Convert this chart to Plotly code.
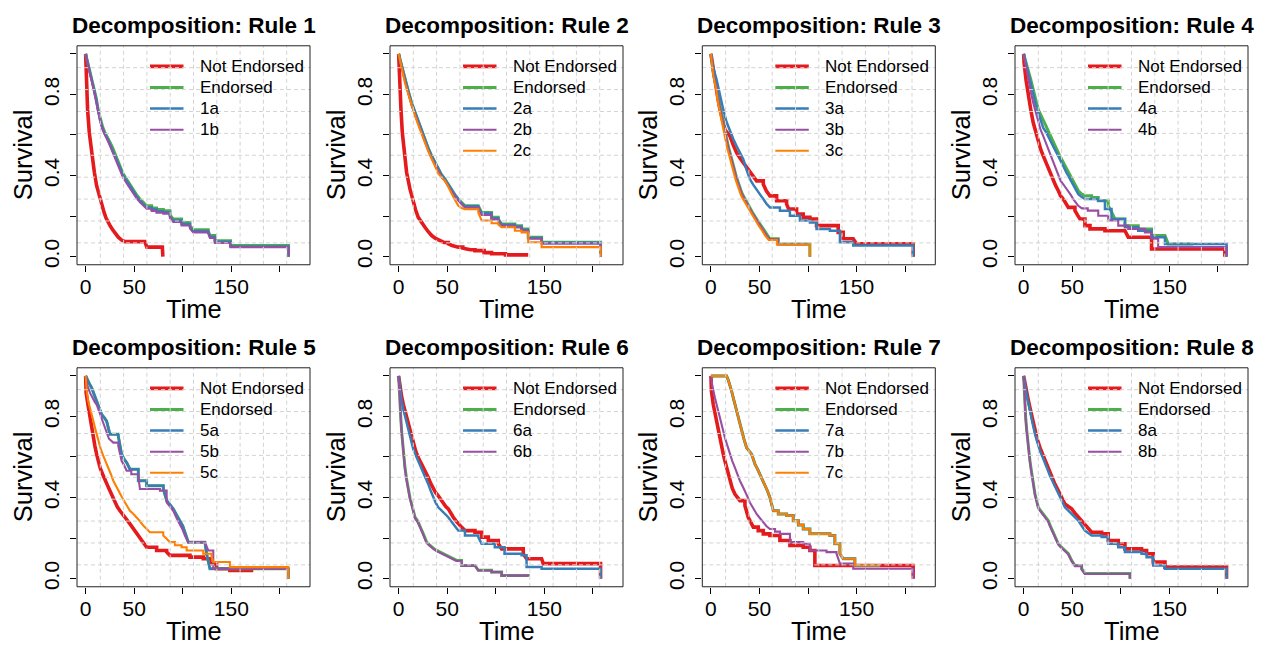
import plotly.graph_objects as go

# ---------------------------------------------------------------- data
# Kaplan-Meier style survival estimates (time, survival) for each rule.

# Rule 1
r1_not_t = [0, 1, 2, 3.8, 6.2, 9, 11.3, 14.8, 17, 19, 21, 23, 25.5, 28.5, 31, 33.6, 37, 40.5, 61, 63, 79, 79.5]
r1_not_s = [1, .86, .725, .61, .51, .415, .35, .284, .25, .218, .19, .17, .15, .128, .11, .096, .082, .074, .074, .047, .038, 0]
r1_t = [0, 2, 4, 6.2, 8.5, 11, 13, 15, 17.5, 20, 22.5, 25, 27.5, 30, 32.5, 35.3, 38.5, 42.2, 45.5, 49,
        52.5, 56, 59.5, 62.8, 68, 73, 80, 86.8, 90.2, 98.8, 107.4, 110.8, 126.2, 128, 133.1, 149.2, 208.9]
r1_end_s = [1, .96, .92, .88, .83, .78, .72, .68, .64, .61, .59, .565, .54, .51, .48, .447, .41, .382, .355, .333,
            .305, .284, .265, .251, .24, .232, .227, .205, .186, .169, .153, .133, .128, .104, .079, .055, 0]
r1_a_s = [1, .955, .915, .875, .825, .772, .712, .672, .632, .602, .582, .556, .53, .5, .47, .438, .4, .373, .346, .324,
          .297, .276, .257, .243, .232, .224, .219, .197, .178, .161, .146, .126, .121, .098, .074, .05, 0]
r1_b_s = [1, .95, .91, .87, .82, .765, .705, .665, .625, .595, .574, .548, .52, .49, .46, .428, .39, .362, .336, .314,
          .288, .268, .25, .236, .225, .217, .212, .19, .171, .154, .138, .12, .115, .092, .068, .047, 0]

# Rule 2
r2_not_t = [0, 1, 2.4, 3.8, 5.8, 8.2, 11.7, 15.1, 17.5, 20.2, 23.5, 27.1, 30.5, 34, 38, 42.5, 46.5, 51.1, 55, 58.5,
            61.4, 66, 70, 74, 78.6, 88, 95.7, 110, 133.4]
r2_not_s = [1, .857, .725, .611, .513, .415, .333, .268, .23, .194, .168, .145, .123, .104, .09, .079, .07, .063, .055, .05,
            .047, .042, .038, .034, .03, .02, .014, .009, .009]
r2_t = [0, 3, 6.5, 10, 13.4, 17, 20.2, 23.5, 27.1, 30.5, 34, 37.5, 40.8, 44, 47.7, 51, 54.5, 58, 61.4, 64.8,
        68.3, 82, 85.4, 95.7, 102.6, 106, 119.7, 126.6, 133.4, 147.2, 207.9]
r2_end_s = [1, .94, .873, .815, .758, .71, .668, .62, .578, .535, .497, .462, .431, .405, .382, .356, .333, .305, .284, .265,
            .251, .251, .218, .194, .186, .161, .153, .137, .096, .071, 0]
r2_a_s = [1, .94, .873, .815, .758, .71, .668, .62, .578, .535, .497, .462, .431, .405, .382, .356, .333, .305, .284, .262,
          .248, .246, .214, .19, .182, .157, .149, .133, .092, .068, 0]
r2_b_s = [1, .935, .865, .805, .745, .698, .655, .607, .565, .522, .484, .45, .42, .395, .372, .347, .324, .297, .277, .257,
          .242, .24, .206, .184, .176, .152, .144, .128, .088, .064, 0]
r2_c_s = [1, .925, .856, .8, .745, .693, .65, .603, .562, .52, .48, .44, .41, .392, .374, .345, .316, .28, .251, .24,
          .234, .218, .178, .165, .158, .145, .128, .12, .071, .047, 0]

# Rule 3
r3_not_t = [0, 2, 4.1, 6.5, 9.3, 12, 14.4, 17, 19.6, 23, 26.4, 30, 33.3, 36.5, 40.1, 43.5, 47, 53.9, 57, 60.7,
            67.6, 77.9, 80, 88.2, 95, 101.9, 108.7, 122.5, 131, 136.2, 146.5, 149.9, 208.2]
r3_not_s = [1, .93, .873, .8, .725, .67, .627, .61, .595, .55, .513, .485, .464, .44, .423, .395, .374, .357, .325, .3,
            .276, .259, .235, .21, .194, .186, .153, .153, .12, .088, .088, .063, 0]
r3_a_t = [0, 2.5, 5.8, 9, 12.7, 16, 19.6, 23, 26.4, 30, 33.3, 36.5, 40.1, 43.5, 47, 50.5, 53.9, 57, 60.7, 71,
          81.3, 91.6, 101.9, 108.7, 122.5, 132.8, 146.5, 208.2]
r3_a_s = [1, .93, .873, .8, .725, .665, .619, .58, .546, .513, .48, .43, .382, .355, .333, .305, .284, .262, .243, .227,
          .202, .178, .169, .137, .128, .071, .055, 0]
r3_t = [0, 1, 2.4, 4, 5.8, 7.5, 9, 10.8, 12.7, 14.3, 15.9, 17.8, 19.5, 21.2, 23, 24.7, 26.4, 28.1, 30, 31.5,
        33.3, 35, 36.5, 40.1, 43.5, 47, 50.5, 53.9, 57, 60.7, 69.3, 101.9]
r3_end_s = [1, .95, .906, .87, .84, .775, .74, .7, .66, .62, .585, .546, .515, .48, .447, .42, .39, .365, .335, .318,
            .3, .285, .27, .243, .212, .186, .16, .137, .11, .088, .063, 0]
r3_b_s = [1, .945, .9, .865, .835, .77, .735, .695, .655, .615, .58, .54, .51, .475, .442, .415, .385, .36, .33, .313,
          .295, .28, .265, .238, .207, .182, .155, .132, .106, .085, .06, 0]
r3_c_t = [0, 1, 2.2, 3.7, 5.3, 7, 8.4, 10, 11.8, 13.4, 15, 16.8, 18.5, 20.2, 22, 23.7, 25.4, 27, 28.8, 30.5,
          32.2, 34, 35.5, 39, 42.5, 46, 49.5, 52.8, 56, 59.5, 68, 101.9]
r3_c_s = [1, .94, .9, .86, .83, .765, .73, .69, .65, .61, .575, .535, .505, .47, .437, .41, .38, .355, .325, .308,
          .29, .275, .26, .233, .203, .178, .15, .128, .102, .082, .06, 0]

# Rule 4
r4_not_t = [0, 0.5, 2.5, 4.8, 7.5, 9.9, 12.5, 15.1, 17.5, 20.2, 23, 25.4, 28, 30.5, 33, 35.7, 38, 40.8, 43.5, 46,
            52.8, 55.5, 58, 63.1, 68.3, 83.7, 104.3, 107.7, 121.4, 131.7, 207.2]
r4_not_s = [1, .955, .87, .791, .72, .66, .61, .562, .53, .497, .465, .431, .4, .374, .35, .325, .3, .284, .26, .243,
            .227, .205, .186, .153, .137, .128, .128, .096, .096, .038, 0]
r4_end_t = [0, 2.5, 4.8, 7.5, 9.9, 12.5, 15.1, 17.5, 20.2, 23, 25.4, 28, 30.5, 33, 35.7, 38, 40.8, 43.5, 46, 48.5,
            51.1, 53.5, 56.3, 59.5, 63.1, 70, 76.8, 87.1, 90.5, 94, 104.3, 118, 131.7, 145.5, 148.9, 174.6]
r4_end_s = [1, .96, .921, .87, .824, .775, .725, .7, .676, .645, .619, .59, .562, .537, .513, .49, .464, .44, .415, .39,
            .366, .345, .325, .31, .3, .292, .276, .251, .22, .186, .153, .137, .104, .104, .063, .063]
r4_a_t = [0, 2.5, 4.8, 7.5, 9.9, 12.5, 15.1, 17.5, 20.2, 23, 25.4, 28, 30.5, 33, 35.7, 38, 40.8, 43.5, 46, 48.5,
          51.1, 53.5, 56.3, 59.5, 63.1, 76.8, 83.7, 90.5, 104.3, 118, 131.7, 145.5, 209]
r4_a_s = [1, .95, .905, .85, .791, .75, .709, .67, .635, .615, .594, .57, .545, .52, .496, .47, .447, .42, .398, .372,
          .349, .328, .308, .295, .284, .276, .235, .186, .145, .128, .096, .063, 0]
r4_b_t = [0, 2.5, 4.8, 7.5, 9.9, 12.5, 15.1, 17.5, 20.2, 23, 25.4, 28, 30.5, 33, 35.7, 38, 40.8, 43.5, 46, 48.5,
          51.1, 54, 56.3, 60, 66, 76.8, 87.1, 97.4, 107.7, 124.8, 131.7, 138.5, 209]
r4_b_s = [1, .93, .873, .81, .758, .71, .66, .625, .594, .56, .529, .495, .464, .43, .398, .375, .357, .34, .325, .305,
          .284, .265, .251, .238, .227, .202, .178, .153, .137, .12, .088, .047, 0]

# Rule 5
r5_not_t = [0, 0.5, 2.5, 4.5, 6, 7.9, 9.5, 11.3, 13, 14.8, 17.5, 19.9, 22.5, 25, 27.5, 30.2, 32.5, 35.3, 38, 40.5,
            43, 45.6, 48, 50.8, 53.5, 56, 59, 62.8, 73.1, 83.4, 86.8, 107.4, 121.1, 128, 134.8, 148.5, 172.6]
r5_not_s = [1, .916, .855, .794, .745, .695, .655, .614, .58, .548, .515, .483, .46, .434, .405, .376, .355, .335, .32, .303,
            .287, .27, .254, .237, .22, .205, .18, .155, .139, .131, .115, .106, .098, .074, .049, .041, .041]
r5_end_t = [0, 2, 4, 6.2, 8.5, 11.3, 14, 16.5, 19, 21.6, 25, 33.6, 37, 39.5, 42.2, 45.6, 54.2, 62.8, 80, 83.4,
            86.8, 90.2, 93.5, 97.1, 100, 102.2, 105.7, 122.8, 124.5, 128, 208.6]
r5_end_s = [1, .975, .96, .941, .91, .875, .84, .81, .795, .777, .712, .704, .614, .59, .573, .54, .483, .458, .442, .385,
            .365, .344, .315, .286, .26, .229, .18, .18, .123, .049, 0]
r5_a_t = r5_end_t
r5_a_s = r5_end_s
r5_b_t = [0, 2, 4.5, 7, 9.5, 11.3, 14, 16.5, 19, 21.6, 24, 28.5, 33.6, 37, 39.5, 42.2, 47, 54.2, 55.9, 76.5,
          83.4, 86.8, 90.2, 93.5, 97.1, 100, 102.2, 105.7, 122.8, 126.2, 131.4, 208.6]
r5_b_s = [1, .95, .916, .89, .87, .859, .825, .794, .76, .728, .69, .671, .655, .581, .56, .532, .515, .507, .442, .434,
          .376, .355, .335, .3, .27, .24, .213, .18, .18, .139, .049, 0]
r5_c_t = [0, 1, 2.7, 5, 7.9, 10.5, 13, 15.5, 18.2, 20.5, 23.3, 26, 28.5, 31, 33.6, 37, 40.5, 43, 45.6, 49,
          52.5, 56, 59.3, 62.8, 66.2, 79.9, 83.4, 86.8, 92, 98.8, 104, 121.1, 129.7, 131.4, 148.5, 208.6]
r5_c_s = [1, .93, .875, .825, .777, .728, .679, .64, .605, .58, .548, .515, .483, .458, .434, .405, .376, .355, .335, .32,
          .303, .283, .262, .245, .229, .213, .197, .18, .165, .155, .139, .123, .106, .082, .057, 0]

# Rule 6
r6_not_t = [0, 1.4, 3, 4.8, 7.5, 9.9, 12.5, 15.1, 17.5, 20.2, 23, 25.4, 28, 30.5, 33, 35.7, 38, 40.8, 43.5, 46,
            48.5, 51.1, 53.5, 56.3, 59, 61.4, 65, 68.3, 78.6, 85.4, 92.3, 102.6, 106, 123.2, 128.3, 131.7, 147.2, 148.9, 207.9]
r6_not_s = [1, .941, .9, .859, .81, .761, .71, .663, .63, .597, .572, .548, .523, .499, .47, .442, .425, .409, .388, .368,
            .356, .344, .323, .303, .285, .27, .253, .237, .229, .205, .188, .172, .147, .147, .123, .098, .098, .074, 0]
r6_a_t = [0, 1.4, 3, 4.8, 7.5, 9.9, 12.5, 15.1, 17.5, 20.2, 23, 25.4, 28, 30.5, 33, 35.7, 38, 40.8, 43.5, 46,
          48.5, 51.1, 53.5, 56.3, 59, 61.4, 68.3, 82, 85.4, 99, 109, 126.6, 131.7, 147.2, 207.9]
r6_a_s = [1, .925, .88, .835, .78, .728, .683, .638, .61, .581, .553, .524, .495, .466, .433, .401, .376, .352, .34, .327,
          .315, .303, .287, .27, .253, .237, .213, .205, .172, .155, .123, .115, .057, .049, 0]
r6_t = [0, 0.7, 1.5, 2.4, 3.2, 4.1, 5.3, 6.5, 8.2, 9.9, 11.6, 13.4, 15, 16.8, 19.5, 22, 23.7, 25.4, 27, 28.8,
        31.5, 34, 36.5, 39.1, 42.5, 46, 49.5, 52.8, 56, 59.7, 64.8, 78.6, 82, 95.7, 106, 133.4]
r6_end_s = [1, .908, .84, .777, .72, .663, .605, .548, .49, .434, .4, .368, .335, .303, .285, .262, .24, .221, .2, .18,
            .168, .155, .147, .139, .131, .123, .115, .106, .098, .09, .065, .065, .041, .033, .016, .011]
r6_b_s = [1, .905, .835, .772, .715, .658, .6, .543, .485, .43, .395, .363, .33, .298, .28, .257, .235, .216, .196, .176,
          .164, .152, .144, .136, .128, .12, .112, .103, .095, .087, .063, .063, .04, .032, .015, .01]

# Rule 7
r7_not_t = [0, 0.5, 2.4, 4, 5.8, 7.5, 9.3, 11, 12.7, 14.4, 16.1, 18, 19.6, 22, 24.7, 27, 29.8, 35, 38.4, 41,
            43.6, 48.7, 53.9, 60.7, 71, 81.3, 95, 101.9, 107, 208.2]
r7_not_s = [1, .925, .859, .818, .777, .736, .695, .655, .614, .58, .548, .51, .475, .445, .417, .4, .385, .36, .303, .275,
            .254, .237, .221, .213, .188, .164, .155, .139, .065, 0]
r7_end_t = [0, 16.1, 17.8, 19.6, 21.3, 23, 24.7, 26.4, 29, 31.6, 34, 36.7, 39.3, 41.9, 43.6, 45.3, 48, 50.4, 53, 55.6,
            58, 60.7, 62.5, 64.2, 69.3, 77.9, 84.7, 90, 95, 101.9, 122.5, 127.6, 132.8, 136.2, 148.2, 174]
r7_end_s = [1, 1, .98, .957, .925, .892, .86, .826, .775, .728, .688, .646, .63, .614, .59, .565, .54, .515, .49, .466,
            .435, .401, .368, .335, .319, .311, .286, .265, .245, .221, .213, .172, .123, .098, .065, .065]
r7_a_t = r7_end_t
r7_a_s = r7_end_s
r7_b_t = [0, 1.5, 4.1, 6.5, 9.3, 12, 14.4, 17, 19.6, 22, 24.7, 27, 29.8, 32.5, 35, 37.5, 40.1, 43.5, 47, 50.5,
          53.9, 57, 60.7, 66, 71, 81.3, 95, 101.9, 119, 129.3, 132.8, 146.5, 208.2]
r7_b_s = [1, .95, .892, .845, .794, .745, .695, .655, .614, .58, .548, .515, .483, .457, .434, .405, .376, .345, .319, .298,
          .278, .26, .245, .232, .221, .18, .172, .139, .131, .123, .074, .049, 0]
r7_c_t = r7_end_t
r7_c_s = r7_end_s

# Rule 8
r8_not_t = [0, 1.5, 3.1, 4.8, 6.5, 9, 11.7, 14, 16.8, 19.5, 22, 24.5, 27.1, 29.5, 32.2, 35, 37.4, 40, 42.5, 46,
            49.4, 52.8, 56.3, 59.5, 63.1, 66.5, 70, 80.3, 87.1, 97.4, 104.3, 121.4, 126.6, 133.4, 145.5, 208.9]
r8_not_s = [1, .955, .916, .88, .843, .785, .728, .687, .646, .613, .581, .552, .524, .495, .466, .44, .417, .392, .368, .356,
            .344, .323, .303, .283, .262, .245, .229, .221, .188, .172, .147, .139, .123, .082, .057, 0]
r8_a_s = [1, .95, .908, .87, .826, .77, .712, .67, .63, .6, .573, .54, .507, .482, .458, .43, .401, .376, .352, .335,
          .319, .302, .286, .262, .237, .225, .213, .205, .172, .155, .131, .123, .106, .065, .049, 0]
r8_t = [0, 0.7, 1.4, 2.1, 3.1, 4.1, 5.3, 6.5, 7.7, 8.9, 10.3, 11.7, 13.4, 15.1, 17.5, 20.2, 22.8, 25.4, 27, 28.8,
        30.5, 32.2, 34, 35.7, 38, 40.8, 43.5, 46, 49.4, 52.8, 59.7, 63.1, 109.4]
r8_end_s = [1, .908, .85, .794, .735, .679, .63, .581, .54, .499, .458, .417, .385, .352, .335, .319, .302, .286, .265, .245,
            .225, .205, .188, .172, .16, .147, .135, .123, .09, .065, .049, .025, 0]
r8_b_s = [1, .905, .845, .789, .73, .674, .625, .576, .535, .494, .453, .412, .38, .347, .33, .314, .297, .281, .26, .24,
          .22, .2, .184, .168, .156, .143, .131, .12, .087, .062, .046, .023, 0]

x_ticks = [0, 50, 100, 150, 200]
x_tick_text = ["0", "50", "", "150", ""]
y_ticks = [0, 0.2, 0.4, 0.6, 0.8, 1.0]
y_tick_text = ["0.0", "", "0.4", "", "0.8", ""]

# ---------------------------------------------------------------- styling
RED, GREEN, BLUE, PURPLE, ORANGE = "#E41A1C", "#4DAF4A", "#377EB8", "#984EA3", "#FF7F00"
STYLE = {"Not Endorsed": (RED, 3.6), "Endorsed": (GREEN, 3.0),
         "a": (BLUE, 2.5), "b": (PURPLE, 2.1), "c": (ORANGE, 2.1)}
FONT = "Liberation Sans, Arial, Helvetica, sans-serif"


def km_path(t, s, flat_gap=4.5):
    """Vertices of a survival curve: dense stretches are joined directly,
    longer gaps hold the previous level and then drop (step)."""
    xs, ys = [t[0]], [s[0]]
    for i in range(1, len(t)):
        if t[i] - t[i - 1] > flat_gap and s[i] != s[i - 1]:
            xs.append(t[i])
            ys.append(s[i - 1])
        xs.append(t[i])
        ys.append(s[i])
    return xs, ys


panels = [
    (1, [("Not Endorsed", r1_not_t, r1_not_s), ("Endorsed", r1_t, r1_end_s), ("a", r1_t, r1_a_s), ("b", r1_t, r1_b_s)]),
    (2, [("Not Endorsed", r2_not_t, r2_not_s), ("Endorsed", r2_t, r2_end_s), ("a", r2_t, r2_a_s),
         ("b", r2_t, r2_b_s), ("c", r2_t, r2_c_s)]),
    (3, [("Not Endorsed", r3_not_t, r3_not_s), ("Endorsed", r3_t, r3_end_s), ("a", r3_a_t, r3_a_s),
         ("b", r3_t, r3_b_s), ("c", r3_c_t, r3_c_s)]),
    (4, [("Not Endorsed", r4_not_t, r4_not_s), ("Endorsed", r4_end_t, r4_end_s), ("a", r4_a_t, r4_a_s),
         ("b", r4_b_t, r4_b_s)]),
    (5, [("Not Endorsed", r5_not_t, r5_not_s), ("Endorsed", r5_end_t, r5_end_s), ("a", r5_a_t, r5_a_s),
         ("b", r5_b_t, r5_b_s), ("c", r5_c_t, r5_c_s)]),
    (6, [("Not Endorsed", r6_not_t, r6_not_s), ("Endorsed", r6_t, r6_end_s), ("a", r6_a_t, r6_a_s),
         ("b", r6_t, r6_b_s)]),
    (7, [("Not Endorsed", r7_not_t, r7_not_s), ("Endorsed", r7_end_t, r7_end_s), ("a", r7_a_t, r7_a_s),
         ("b", r7_b_t, r7_b_s), ("c", r7_c_t, r7_c_s)]),
    (8, [("Not Endorsed", r8_not_t, r8_not_s), ("Endorsed", r8_t, r8_end_s), ("a", r8_not_t, r8_a_s),
         ("b", r8_t, r8_b_s)]),
]

W, H = 1261, 646
BOX_LEFT = [77, 390, 702.3, 1015]
BOX_TOP = [46, 369.5]
BOX_W, BOX_H = 233, 220

fig = go.Figure()
shapes, annotations = [], []

for idx, (rule, curves) in enumerate(panels):
    k = idx + 1
    xa, ya = f"x{k}" if k > 1 else "x", f"y{k}" if k > 1 else "y"
    row, col = divmod(idx, 4)
    left, top = BOX_LEFT[col], BOX_TOP[row]

    for key, t, s in curves:
        color, width = STYLE[key]
        label = key if key in ("Not Endorsed", "Endorsed") else f"{rule}{key}"
        px, py = km_path(t, s)
        fig.add_trace(go.Scatter(x=px, y=py, mode="lines", name=label, showlegend=False,
                                 line=dict(color=color, width=width, shape="linear"),
                                 xaxis=xa, yaxis=ya))

    ax_x = dict(domain=[left / W, (left + BOX_W) / W], range=[-8.9, 231.0], anchor=ya,
                tickmode="array", tickvals=x_ticks, ticktext=x_tick_text,
                ticks="outside", ticklen=6, tickwidth=1, tickcolor="black", ticklabelstandoff=-3,
                showgrid=False, zeroline=False, showline=False,
                tickfont=dict(family=FONT, size=21, color="black"))
    ax_y = dict(domain=[(H - top - BOX_H) / H, (H - top) / H], range=[-0.04, 1.04], anchor=xa,
                tickmode="array", tickvals=y_ticks, ticktext=y_tick_text, tickangle=-90,
                ticks="outside", ticklen=6, tickwidth=1, tickcolor="black", ticklabelstandoff=3,
                showgrid=False, zeroline=False, showline=False,
                tickfont=dict(family=FONT, size=21, color="black"))
    fig.update_layout(**{("xaxis" if k == 1 else f"xaxis{k}"): ax_x,
                         ("yaxis" if k == 1 else f"yaxis{k}"): ax_y})

    xd, yd = f"{xa} domain", f"{ya} domain"

    # legend (top right, no frame)
    for j, (key, _, _) in enumerate(curves):
        color, width = STYLE[key]
        label = key if key in ("Not Endorsed", "Endorsed") else f"{rule}{key}"
        yy = 1 - (20.7 + 21.2 * j) / BOX_H
        shapes.append(dict(type="line", xref=xd, yref=yd, x0=73 / BOX_W, x1=106.5 / BOX_W,
                           y0=yy, y1=yy, line=dict(color=color, width=width), layer="above"))
        annotations.append(dict(text=label, xref=xd, yref=yd, x=120.5 / BOX_W, y=yy,
                                xanchor="left", yanchor="middle", showarrow=False,
                                font=dict(family=FONT, size=17, color="black")))

    # dashed grid drawn over the curves
    for g in range(1, 10):
        f = g / 10
        shapes.append(dict(type="line", xref=xd, yref=yd, x0=f, x1=f, y0=0, y1=1,
                           line=dict(color="#D3D3D3", width=1, dash="4px,3px"), layer="above"))
        shapes.append(dict(type="line", xref=xd, yref=yd, x0=0, x1=1, y0=f, y1=f,
                           line=dict(color="#D3D3D3", width=1, dash="4px,3px"), layer="above"))

    # frame
    shapes.append(dict(type="rect", xref=xd, yref=yd, x0=0, x1=1, y0=0, y1=1,
                       line=dict(color="#222222", width=1), layer="above"))

    # title and axis labels
    annotations.append(dict(text=f"<b>Decomposition: Rule {rule}</b>", xref=xd, x=0.5,
                            yref="paper", y=1 - (top - 20) / H, xanchor="center", yanchor="middle",
                            showarrow=False, font=dict(family=FONT, size=22.5, color="black")))
    annotations.append(dict(text="Time", xref=xd, x=0.5, yref="paper", y=1 - (top + 264) / H,
                            xanchor="center", yanchor="middle", showarrow=False,
                            font=dict(family=FONT, size=25.5, color="black")))
    annotations.append(dict(text="Survival", xref="paper", x=(left - 54) / W, yref=yd, y=0.5,
                            xanchor="center", yanchor="middle", textangle=-90, showarrow=False,
                            font=dict(family=FONT, size=25.5, color="black")))

fig.update_layout(width=W, height=H, margin=dict(l=0, r=0, t=0, b=0),
                  paper_bgcolor="white", plot_bgcolor="white",
                  shapes=shapes, annotations=annotations, showlegend=False)

fig.write_html("out.html")
